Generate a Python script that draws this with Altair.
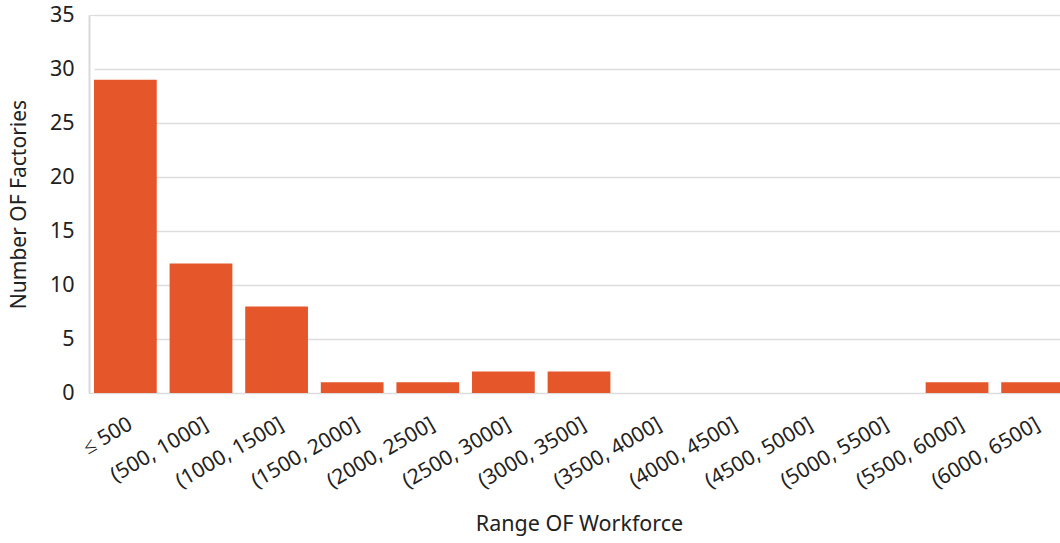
import altair as alt
import pandas as pd

categories = ["≤ 500", "(500, 1000]", "(1000, 1500]", "(1500, 2000]", "(2000, 2500]",
              "(2500, 3000]", "(3000, 3500]", "(3500, 4000]", "(4000, 4500]",
              "(4500, 5000]", "(5000, 5500]", "(5500, 6000]", "(6000, 6500]"]
counts = [29, 12, 8, 1, 1, 2, 2, 0, 0, 0, 0, 1, 1]

df = pd.DataFrame({"range": categories, "count": counts})

chart = alt.Chart(df).mark_bar(color="#E5562A", clip=False).encode(
    x=alt.X("range:N", sort=categories, title="Range OF Workforce",
            scale=alt.Scale(paddingInner=0.17, paddingOuter=0, range=[5, 975]),
            axis=alt.Axis(labelAngle=-30, labelFontSize=21, labelColor="#222222",
                          titleFontSize=21.5, titleFontWeight="normal", titleColor="#222222",
                          titlePadding=22, ticks=False, domain=False, labelPadding=20)),
    y=alt.Y("count:Q", title="Number OF Factories",
            scale=alt.Scale(domain=[0, 35]),
            axis=alt.Axis(values=[0, 5, 10, 15, 20, 25, 30, 35], labelFontSize=21.5,
                          labelColor="#222222", titleFontSize=21, titleFontWeight="normal",
                          titleColor="#222222", ticks=False, domain=True, domainColor="#d9d9d9",
                          domainWidth=2, gridColor="#dddddd", gridWidth=1.5, labelPadding=15,
                          titlePadding=20)),
).properties(
    width=971, height=378,
    autosize=alt.AutoSizeParams(type="none"),
    padding={"left": 89, "top": 15, "right": 0, "bottom": 150},
).configure_view(stroke=None).configure(font="Noto Sans")

chart.save("out.html", embed_options={"renderer": "svg", "actions": False})
